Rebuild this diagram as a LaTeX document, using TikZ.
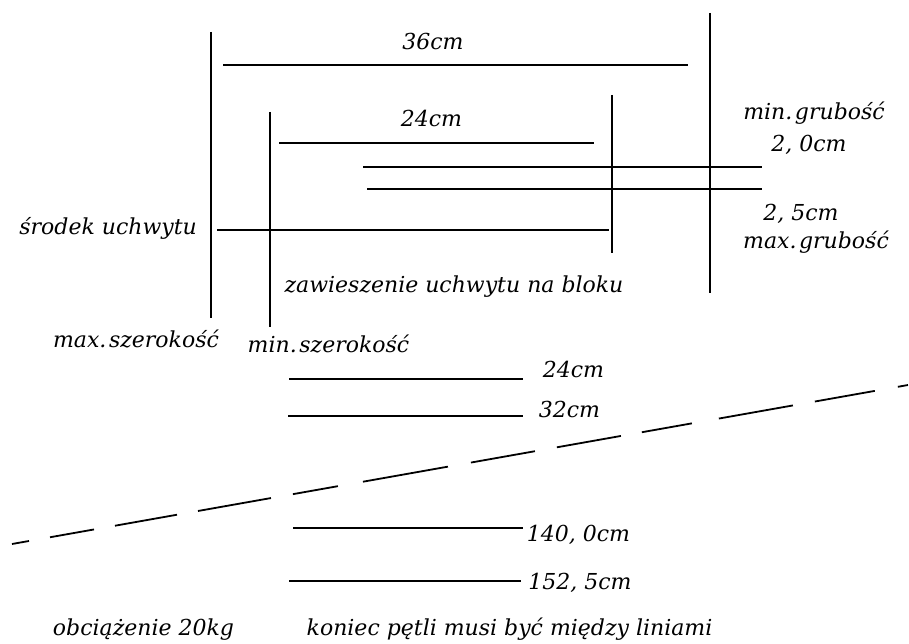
\documentclass[tikz,border=0pt]{standalone}
\usepackage{fontspec}
\setmainfont{DejaVu Serif}
\newcommand{\ps}{.\hspace{0.12em}}
\begin{document}
\begin{tikzpicture}[x=1pt,y=-1pt,
  ln/.style={line width=1.8pt},
  lbl/.style={font=\fontsize{22}{26}\selectfont\itshape, inner sep=0pt, anchor=base}]
\useasboundingbox (0,0) rectangle (909,644);
% named end points
\coordinate (v1t) at (211,32);  \coordinate (v1b) at (211,318);
\coordinate (v2t) at (270,112); \coordinate (v2b) at (270,327);
\coordinate (v3t) at (612,95);  \coordinate (v3b) at (612,253);
\coordinate (v4t) at (710,13);  \coordinate (v4b) at (710,293);
\coordinate (h1l) at (223,65);  \coordinate (h1r) at (688,65);
\coordinate (h2l) at (279,143); \coordinate (h2r) at (594,143);
\coordinate (h3l) at (363,167); \coordinate (h3r) at (762,167);
\coordinate (h4l) at (367,189); \coordinate (h4r) at (762,189);
\coordinate (h5l) at (217,230); \coordinate (h5r) at (609,230);
\coordinate (l1l) at (289,379); \coordinate (l1r) at (523,379);
\coordinate (l2l) at (288,416); \coordinate (l2r) at (523,416);
\coordinate (l3l) at (293,528); \coordinate (l3r) at (523,528);
\coordinate (l4l) at (289,581); \coordinate (l4r) at (521,581);
\coordinate (da) at (12,544);   \coordinate (db) at (908,385);
% lines
\draw[ln] (v1t) -- (v1b);
\draw[ln] (v2t) -- (v2b);
\draw[ln] (v3t) -- (v3b);
\draw[ln] (v4t) -- (v4b);
\draw[ln] (h1l) -- (h1r);
\draw[ln] (h2l) -- (h2r);
\draw[ln] (h3l) -- (h3r);
\draw[ln] (h4l) -- (h4r);
\draw[ln] (h5l) -- (h5r);
\draw[ln] (l1l) -- (l1r);
\draw[ln] (l2l) -- (l2r);
\draw[ln] (l3l) -- (l3r);
\draw[ln] (l4l) -- (l4r);
\draw[ln, dash pattern=on 17.3pt off 21.3pt on 44.7pt off 21.3pt on 63pt off 21.3pt on 74.1pt off 22.3pt on 45.7pt off 25.4pt on 86.3pt off 23.4pt on 65pt off 22.3pt on 65pt off 21.3pt on 50.8pt off 27.4pt on 75.2pt off 22.3pt on 60.9pt off 23.4pt on 10.2pt off 50pt] (da) -- (db);
% labels
\node[lbl] (t36) at (433,50) {36cm};
\node[lbl] (t24a) at (431.5,127) {24cm};
\node[lbl, anchor=base east] (tsr) at (197,235) {środek uchwytu};
\node[lbl] (tzaw) at (454,292) {zawieszenie uchwytu na bloku};
\node[lbl] (tmig) at (814,120) {min\ps grubość};
\node[lbl] (t20) at (809,152) {2, 0cm};
\node[lbl] (t25) at (801,221) {2, 5cm};
\node[lbl] (tmag) at (816,248) {max\ps grubość};
\node[lbl] (tmas) at (136,347) {max\ps szerokość};
\node[lbl] (tmis) at (328.5,352) {min\ps szerokość};
\node[lbl] (t24b) at (573.5,377) {24cm};
\node[lbl] (t32) at (569.5,417) {32cm};
\node[lbl] (t140) at (578.5,541) {140, 0cm};
\node[lbl] (t152) at (580,589) {152, 5cm};
\node[lbl] (tobc) at (143.5,635) {obciążenie 20kg};
\node[lbl] (tkon) at (509.5,635) {koniec pętli musi być między liniami};
\end{tikzpicture}
\end{document}
